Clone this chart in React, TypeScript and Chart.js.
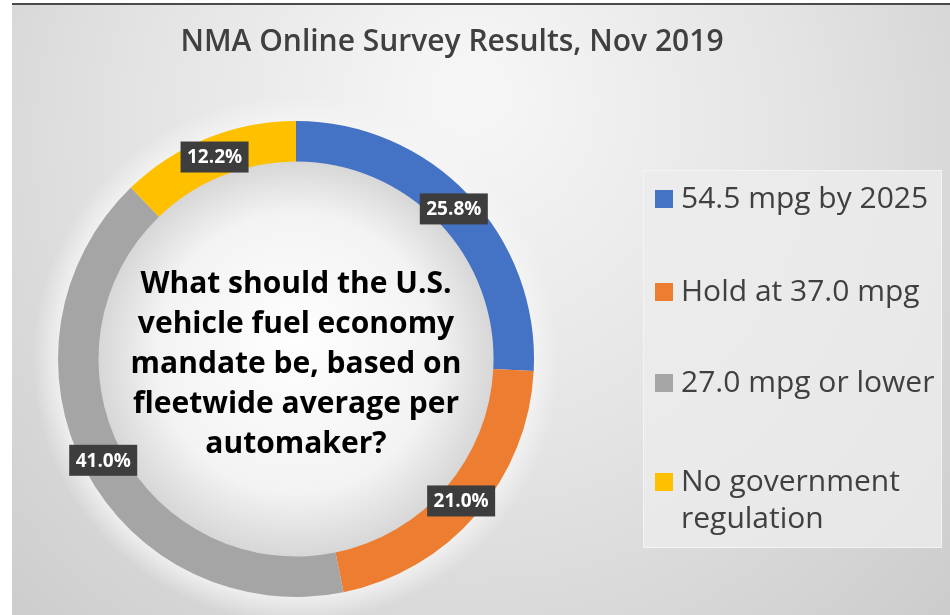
import React, { useEffect, useRef } from "react";
import { Chart, registerables } from "chart.js";

Chart.register(...registerables);

const TITLE = "NMA Online Survey Results, Nov 2019";
const CATEGORIES = ["54.5 mpg by 2025", "Hold at 37.0 mpg", "27.0 mpg or lower", "No government regulation"];
const LEGEND_LINES = [["54.5 mpg by 2025"], ["Hold at 37.0 mpg"], ["27.0 mpg or lower"], ["No government", "regulation"]];
const VALUES = [25.8, 21.0, 41.0, 12.2];
const COLORS = ["#4472C4", "#ED7D31", "#A5A5A5", "#FFC000"];
const CENTER_LINES = [
  "What should the U.S.",
  "vehicle fuel economy",
  "mandate be, based on",
  "fleetwide average per",
  "automaker?",
];

const W = 950;
const H = 615;

const backgroundPlugin = {
  id: "bgPlugin",
  beforeDraw(chart: any) {
    const ctx = chart.ctx;
    ctx.save();
    ctx.fillStyle = "#ffffff";
    ctx.fillRect(0, 0, W, H);
    const g = ctx.createRadialGradient(470, 90, 20, 470, 180, 700);
    g.addColorStop(0, "#f6f6f6");
    g.addColorStop(0.45, "#e4e4e4");
    g.addColorStop(1, "#c8c8c8");
    ctx.fillStyle = g;
    ctx.fillRect(12, 5, W - 12, H - 5);
    ctx.fillStyle = "#4a4a4a";
    ctx.fillRect(12, 3, W - 12, 2);

    const arc = chart.getDatasetMeta(0).data[0];
    if (arc) {
      const { x, y, innerRadius, outerRadius } = arc.getProps(["x", "y", "innerRadius", "outerRadius"], true);
      const halo = ctx.createRadialGradient(x, y, outerRadius - 5, x, y, outerRadius + 25);
      halo.addColorStop(0, "rgba(245,245,245,0.9)");
      halo.addColorStop(1, "rgba(245,245,245,0)");
      ctx.fillStyle = halo;
      ctx.beginPath();
      ctx.arc(x, y, outerRadius + 25, 0, Math.PI * 2);
      ctx.fill();
      const hg = ctx.createRadialGradient(x, y - 20, 0, x, y, innerRadius + 2);
      hg.addColorStop(0, "#fefefe");
      hg.addColorStop(0.7, "#f3f3f3");
      hg.addColorStop(1, "#d6d6d6");
      ctx.fillStyle = hg;
      ctx.beginPath();
      ctx.arc(x, y, innerRadius + 2, 0, Math.PI * 2);
      ctx.fill();
    }
    ctx.restore();
  },
};

const overlayPlugin = {
  id: "overlayPlugin",
  afterDraw(chart: any) {
    const ctx = chart.ctx;
    ctx.save();

    // Title
    ctx.fillStyle = "#404040";
    ctx.font = "600 30px 'Open Sans'";
    ctx.textAlign = "center";
    ctx.textBaseline = "middle";
    ctx.fillText(TITLE, 452, 42);

    const meta = chart.getDatasetMeta(0);
    const first = meta.data[0];
    const cx = first.x;
    const cy = first.y;

    // Center text
    ctx.fillStyle = "#000000";
    ctx.font = "bold 30px 'Open Sans'";
    const lh = 40;
    const startY = cy - 75;
    CENTER_LINES.forEach((line, i) => {
      ctx.fillText(line, cx, startY + i * lh);
    });

    // Data labels
    ctx.font = "bold 19px 'Open Sans'";
    meta.data.forEach((el: any, i: number) => {
      const p = el.tooltipPosition();
      const txt = VALUES[i].toFixed(1) + "%";
      const bw = 68;
      const bh = 31;
      ctx.fillStyle = "#3d3d3d";
      ctx.fillRect(p.x - bw / 2, p.y - bh / 2, bw, bh);
      ctx.fillStyle = "#ffffff";
      ctx.fillText(txt, p.x, p.y + 1);
    });

    // Legend box
    const bx = 643;
    const by = 170;
    const bW = 299;
    const bH = 378;
    ctx.fillStyle = "rgba(236,236,236,0.8)";
    ctx.fillRect(bx, by, bW, bH);
    ctx.strokeStyle = "rgba(255,255,255,0.45)";
    ctx.lineWidth = 1;
    ctx.strokeRect(bx + 0.5, by + 0.5, bW - 1, bH - 1);

    ctx.textAlign = "left";
    ctx.font = "30px 'Open Sans'";
    const itemY = [199, 292, 383, 482];
    LEGEND_LINES.forEach((lines, i) => {
      const y0 = itemY[i];
      ctx.fillStyle = COLORS[i];
      ctx.fillRect(655, y0 - 9, 18, 18);
      ctx.fillStyle = "#404040";
      lines.forEach((ln, j) => {
        ctx.fillText(ln, 681, y0 + j * 37);
      });
    });

    ctx.restore();
  },
};

export default function App() {
  const ref = useRef<HTMLCanvasElement | null>(null);
  useEffect(() => {
    document.body.style.margin = "0";
    const canvas = ref.current;
    if (!canvas) return;
    const chart = new Chart(canvas, {
      type: "doughnut",
      data: {
        labels: CATEGORIES,
        datasets: [
          {
            data: VALUES,
            backgroundColor: COLORS,
            borderWidth: 0,
            hoverOffset: 0,
            offset: 0,
          },
        ],
      },
      options: {
        responsive: false,
        animation: false,
        cutout: "83%",
        layout: { padding: { left: 58, top: 121, right: 416, bottom: 18 } },
        plugins: {
          legend: { display: false },
          title: { display: false },
          tooltip: { enabled: false },
        },
        events: [],
      },
      plugins: [backgroundPlugin, overlayPlugin],
    });
    return () => chart.destroy();
  }, []);
  return (
    <div style={{ position: "absolute", left: 0, top: 0, width: W, height: H }}>
      <canvas ref={ref} width={W} height={H} style={{ width: W, height: H }} />
    </div>
  );
}
